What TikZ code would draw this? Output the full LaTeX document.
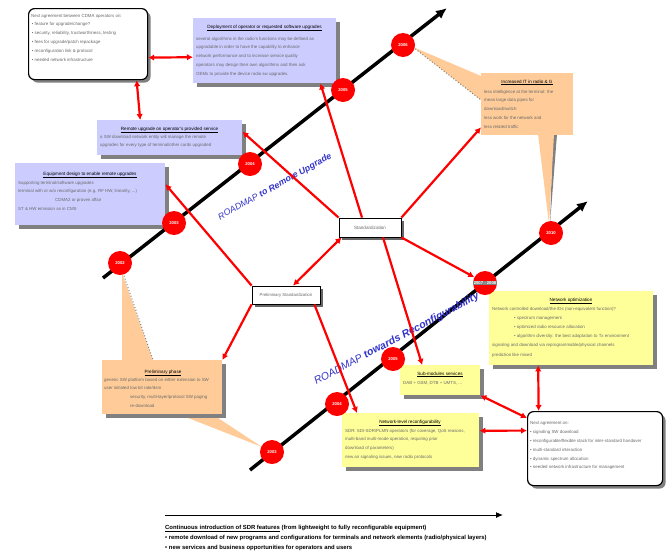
\documentclass[tikz,border=0pt]{standalone}
\usepackage{fontspec}
\setmainfont{Liberation Sans}
\usetikzlibrary{arrows.meta,shadows}
\definecolor{boxblue}{RGB}{204,204,255}
\definecolor{boxorange}{RGB}{255,204,153}
\definecolor{boxyellow}{RGB}{255,255,153}
\definecolor{shadowgray}{RGB}{128,128,128}
\definecolor{roadblue}{RGB}{51,51,204}
\definecolor{bodygray}{RGB}{105,105,105}
\tikzset{
  shadowed/.style={drop shadow={shadow xshift=4pt,shadow yshift=-4pt,fill=shadowgray,opacity=1}},
  bluebox/.style={shadowed,fill=boxblue,draw=none,anchor=north west,inner sep=0pt},
  yellowbox/.style={shadowed,fill=boxyellow,draw=none,anchor=north west,inner sep=0pt},
  orangebox/.style={fill=boxorange,draw=none,anchor=north west,inner sep=0pt},
  notebox/.style={draw=black,line width=1.2pt,rounded corners=6pt,fill=white,anchor=north west,inner sep=0pt,
    drop shadow={shadow xshift=3pt,shadow yshift=-3pt,fill=shadowgray,opacity=1}},
  stdbox/.style={draw=black,line width=0.8pt,fill=white,inner sep=0pt,
    drop shadow={shadow xshift=3pt,shadow yshift=-3pt,fill=black!60,opacity=1},
    font=\fontsize{4.6}{5}\selectfont,text=bodygray},
  boxtitle/.style={font=\fontsize{4.6}{5}\selectfont,text=black,inner sep=0pt,anchor=base},
  boxbody/.style={font=\fontsize{4.4}{8.8}\selectfont,text=bodygray,inner sep=0pt,anchor=north west,align=left},
  yearc/.style={circle,fill=red,inner sep=0pt,minimum size=24pt,text=white,font=\fontsize{4.2}{5}\selectfont\bfseries},
  yearlabel/.style={fill=gray,text=white,inner sep=0.8pt,font=\fontsize{4.2}{5}\selectfont\bfseries},
  timeline/.style={line width=3.5pt,-{Latex[length=11pt,width=10pt]}},
  link/.style={red,line width=2.2pt,-{Latex[length=6pt,width=6.5pt]}},
  dlink/.style={red,line width=2.2pt,{Latex[length=6pt,width=6.5pt]}-{Latex[length=6pt,width=6.5pt]}},
  roadtext/.style={text=roadblue,inner sep=0pt},
  pointer/.style={fill=boxorange,draw=none},
  pointeredge/.style={draw=gray,dotted,line width=1pt},
}
\begin{document}
\begin{tikzpicture}[x=1pt,y=-1pt]
\useasboundingbox (0,0) rectangle (669,555);
\fill[white] (0,0) rectangle (669,555);

% callout pointers
\fill[pointer] (481,76) -- (413,47) -- (481,100) -- cycle;
\draw[pointeredge] (413,47) -- (481,100);
\fill[shadowgray] (553,134) -- (550,224) -- (557,134) -- cycle;
\fill[pointer] (538,134) -- (549,224) -- (554,134) -- cycle;
\fill[pointer] (122,361) -- (122,273) -- (153,361) -- cycle;
\draw[pointeredge] (123,273) -- (153,360);
\fill[pointer] (178,414) -- (262,447) -- (212,414) -- cycle;

% boxes
\node[notebox,minimum width=119pt,minimum height=71pt] (tlbox) at (28,8) {};
\node[boxbody] (tltext) at (31,13.7) {Next agreement between CDMA operators on:\\
\,• feature for upgrade/change?\\
\,• security, reliability, trustworthiness, testing\\
\,• fees for upgrade/patch repackage\\
\,• reconfiguration link \& protocol\\
\,• needed network infrastructure};

\node[bluebox,minimum width=143pt,minimum height=65pt] (deploy) at (193,18) {};
\node[boxtitle] (deployt) at (264.5,28) {\underline{Deployment of operator or requested software upgrades}};
\node[boxbody] (deployb) at (196,36.7) {several algorithms in the radio's functions may be defined as\\
upgradable in order to have the capability to enhance\\
network performance and to increase service quality\\
operators may design their own algorithms and then ask\\
OEMs to provide the device radio sw upgrades.};

\node[bluebox,minimum width=145pt,minimum height=35pt] (remote) at (97,120) {};
\node[boxtitle] (remotet) at (169.5,130) {\underline{Remote upgrade on operator's provided service}};
\node[boxbody] (remoteb) at (100,134.7) {a SW download network entity will manage the remote\\
upgrades for every type of terminal/other cards upgraded};

\node[bluebox,minimum width=150pt,minimum height=62pt] (equip) at (15,163) {};
\node[boxtitle] (equipt) at (90,175) {\underline{Equipment design to enable remote upgrades}};
\node[boxbody] (equipb) at (18,180.7) {Supporting terminal/software upgrades\\
terminal with or w/o reconfiguration (e.g. RF HW, linearity, ...)\\
\hspace{37pt}CDMA2 or proven affair\\
ST \& HW emission as in CMS};

\node[orangebox,minimum width=92pt,minimum height=62pt] (obox) at (481,73) {};
\node[boxtitle] (oboxt) at (527,83) {\underline{Increased IT in radio \& G}};
\node[boxbody] (oboxb) at (484,89.7) {less intelligence at the terminal: the\\
mean large data pipes for\\
download/switch\\
less work for the network and\\
less related traffic};

\node[orangebox,shadowed,minimum width=120pt,minimum height=54pt] (pbox) at (102,360) {};
\node[boxtitle] (pboxt) at (163,373) {\underline{Preliminary phase}};
\node[boxbody] (pboxb) at (104,377.7) {generic SW platform based on either extension to SW\\
user initiated low bit rate/dsm\\
\hspace{26pt}security, multi-layer/protocol SW paging\\
\hspace{26pt}re-download};

\node[yellowbox,minimum width=164pt,minimum height=74pt] (nopt) at (489,291) {};
\node[boxtitle] (noptt) at (571,301) {\underline{Network optimization}};
\node[boxbody,font=\fontsize{4.4}{9.2}\selectfont] (noptb) at (492,306.7) {Network controlled download/the IDs (non-equivalent function)?\\
\hspace{22pt}• spectrum management\\
\hspace{22pt}• optimized radio resource allocation\\
\hspace{22pt}• algorithm diversity: the best adaptation to Tx environment\\
signaling and download via reprogrammable/physical channels\\
prediction like mixed};

\node[yellowbox,minimum width=80pt,minimum height=30pt] (sub) at (400,365) {};
\node[boxtitle] (subt) at (440,375) {\underline{Sub-modules services}};
\node[boxbody] (subb) at (403,381.7) {DAB + GSM, DTB + UMTS, ...};

\node[yellowbox,minimum width=137pt,minimum height=54pt] (nlev) at (342,413) {};
\node[boxtitle] (nlevt) at (410,423) {\underline{Network-level reconfigurability}};
\node[boxbody] (nlevb) at (345,428.7) {SDR: SDI-SDR/PLMN operators (for coverage, QoS reasons,\\
multi-band multi-mode operation, requiring prior\\
download of parameters)\\
new air signaling issues, new radio protocols};

\node[notebox,minimum width=135pt,minimum height=74pt] (brbox) at (527,411) {};
\node[boxbody] (brboxb) at (530,421.7) {Next agreement on:\\
• signaling SW download\\
• reconfigurable/flexible stack for inter-standard handover\\
• multi-standard interaction\\
• dynamic spectrum allocation\\
• needed network infrastructure for management};

\node[stdbox,minimum width=62pt,minimum height=19pt] (std) at (370,227.5) {Standardization};
\node[stdbox,minimum width=68pt,minimum height=18pt,font=\fontsize{4.3}{5}\selectfont] (pre) at (286,295) {Preliminary Standardization};

% timelines
\coordinate (ua) at (103,278);
\coordinate (ub) at (447,8);
\coordinate (la) at (250,470);
\coordinate (lb) at (588,201);
\draw[timeline] (ua) -- (ub);
\draw[timeline] (la) -- (lb);

% year circles
\node[yearc] (c1) at (120,263) {2002};
\node[yearc] (c2) at (174,223) {2003};
\node[yearc] (c3) at (250,164) {2004};
\node[yearc] (c4) at (343,90) {2005};
\node[yearc] (c5) at (403,45) {2006};
\node[yearc] (c6) at (272,452) {2003};
\node[yearc] (c7) at (337,404) {2004};
\node[yearc] (c8) at (393,359) {2005};
\node[yearc] (c9) at (485,283) {};
\node[yearlabel] (c9l) at (c9) {2007 - 2008};
\node[yearc] (c10) at (551,233) {2010};

% roadmap texts
\node[roadtext,rotate=29,font=\fontsize{8.8}{9}\selectfont] (rm1) at (275,187) {\textit{ROADMAP} \textbf{\textit{to Remote Upgrade}}};
\node[roadtext,rotate=28,font=\fontsize{10.5}{11}\selectfont] (rm2) at (397,339) {\textit{ROADMAP} \textbf{\textit{towards Reconfigurability}}};

% links
\draw[dlink] ([yshift=-13.5pt]tlbox.east) -- ([yshift=-6.5pt]deploy.west);
\draw[dlink] ([xshift=48.5pt]tlbox.south) -- ([xshift=-29.5pt]remote.north);
\draw[link] (std.north west) -- ([yshift=6pt]remote.east);
\draw[link] ([xshift=-8pt]std.north) -- ([xshift=-16pt]deploy.south east);
\draw[link] (std.north east) -- ([yshift=8pt]obox.south west);
\draw[link] (std.south east) -- (c9);
\draw[link] ([xshift=13pt]std.south) -- ([xshift=-18pt]sub.north);
\draw[dlink] ([xshift=7pt]pre.north) -- ([xshift=3pt]std.south west);
\draw[link] (pre.north west) -- ([yshift=10pt]equip.east);
\draw[link] (pre.south west) -- (pbox.north east);
\draw[link] ([xshift=-6pt]pre.south east) -- ([xshift=15pt]nlev.north west);
\draw[dlink] ([xshift=-33pt]nopt.south) -- ([xshift=-56.5pt]brbox.north);
\draw[dlink] (sub.south east) -- ([yshift=-7pt]brbox.north west);
\draw[dlink] ([yshift=9.5pt]nlev.east) -- ([yshift=18pt]brbox.west);

% legend
\coordinate (lg0) at (165,515);
\coordinate (lg1) at (503,515);
\draw[line width=1pt,-{Latex[length=7pt,width=6pt]}] (lg0) -- (lg1);
\node[anchor=north west,inner sep=0pt,align=left,font=\fontsize{5.9}{10}\selectfont\bfseries] (legend) at (165,525)
{\underline{Continuous introduction of SDR features} (from lightweight to fully reconfigurable equipment)\\
• remote download of new programs and configurations for terminals and network elements (radio/physical layers)\\
• new services and business opportunities for operators and users};
\end{tikzpicture}
\end{document}
